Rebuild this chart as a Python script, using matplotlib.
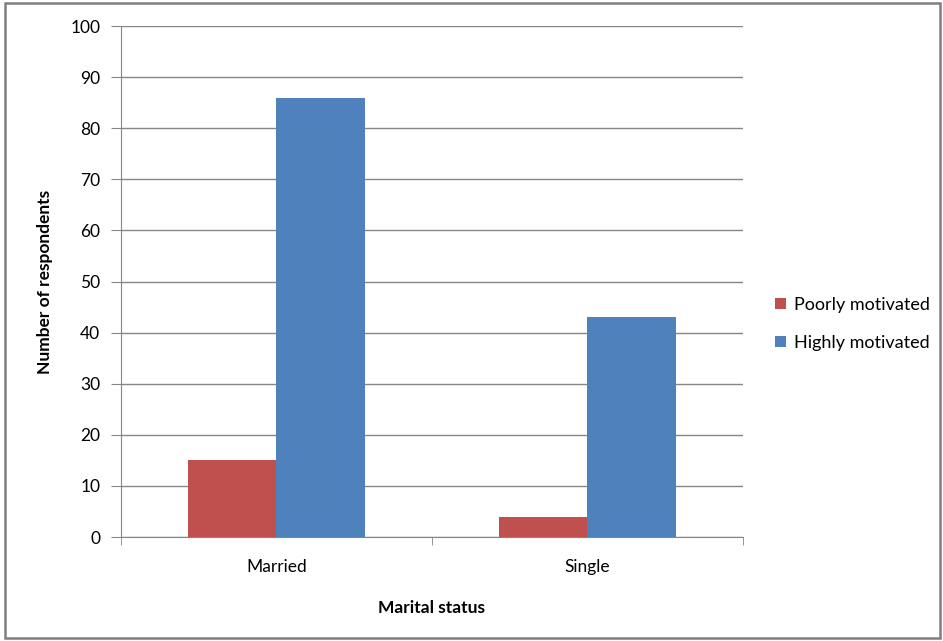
import matplotlib.pyplot as plt
import numpy as np
from matplotlib.patches import Rectangle

categories = ['Married', 'Single']
poorly = [15, 4]
highly = [86, 43]

plt.rcParams['font.family'] = ['Lato', 'DejaVu Sans']

fig = plt.figure(figsize=(9.43, 6.41), dpi=100)
ax = fig.add_axes([0.1283, 0.1622, 0.6596, 0.7972])

x = np.arange(len(categories))
w = 0.286
ax.bar(x - w / 2, poorly, w, color='#c0504d', label='Poorly motivated', zorder=3)
ax.bar(x + w / 2, highly, w, color='#4f81bd', label='Highly motivated', zorder=3)

ax.set_xlim(-0.5, 1.5)
ax.set_ylim(0, 100)
ax.set_yticks(range(0, 101, 10))
ax.yaxis.grid(True, color='#868686', linewidth=1, zorder=0)

# category labels centred, tick marks on the boundaries
ax.set_xticks(x)
ax.set_xticklabels(categories, fontsize=12.5)
ax.set_xticks([-0.5, 0.5, 1.5], minor=True)
ax.tick_params(axis='x', which='major', length=0, pad=16)
ax.tick_params(axis='x', which='minor', length=6, color='#868686', direction='out')
ax.tick_params(axis='y', length=7, color='#868686', labelsize=12.5, pad=8)

for side in ['top', 'right']:
    ax.spines[side].set_visible(False)
ax.spines['left'].set_color('#868686')
ax.spines['bottom'].set_color('#868686')

ax.set_xlabel('Marital status', fontsize=12.5, fontweight='bold', labelpad=18)
ax.set_ylabel('Number of respondents', fontsize=12.5, fontweight='bold', labelpad=12)

ax.legend(loc='center left', bbox_to_anchor=(1.025, 0.417), frameon=False,
          fontsize=13, handlelength=0.6, handleheight=0.6, handletextpad=0.45,
          labelspacing=1.2)

fig.patches.append(Rectangle((5 / 943, 3 / 641), 935 / 943, 635 / 641,
                             transform=fig.transFigure, fill=False,
                             edgecolor='#7f7f7f', linewidth=1.8))

fig.savefig('out.png', dpi=100)
